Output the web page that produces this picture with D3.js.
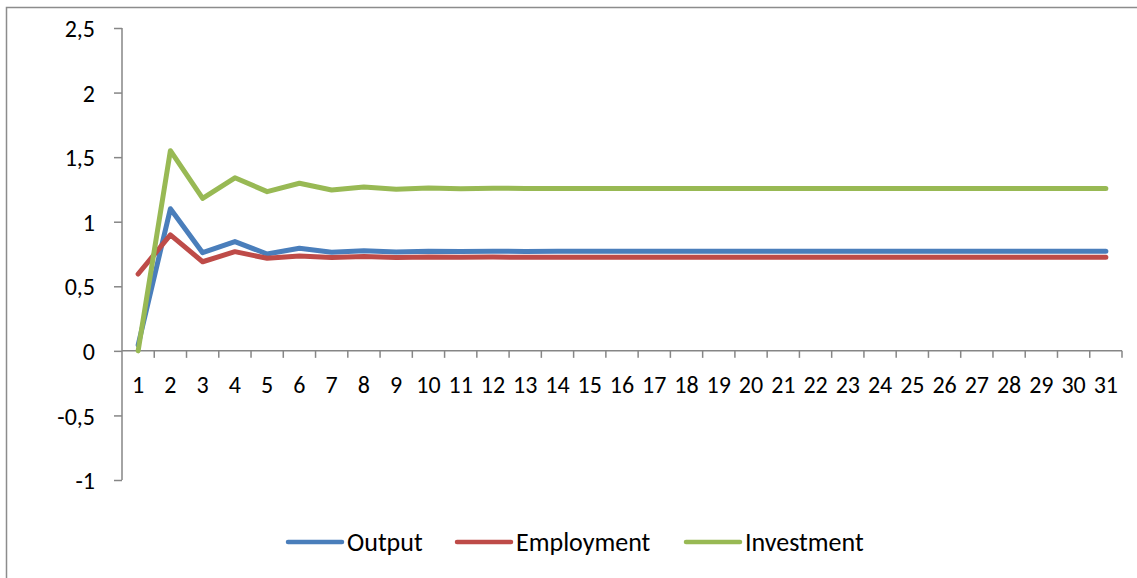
<!DOCTYPE html>
<html><head><meta charset="utf-8">
<script src="https://cdn.jsdelivr.net/npm/d3@7"></script>
<style>
html,body{margin:0;padding:0;background:#fff;}
svg{display:block;}
text{font-family:Carlito,Calibri,Lato,"Open Sans",sans-serif;fill:#000;}
</style></head>
<body>
<svg id="chart" width="1137" height="578"></svg>
<script>
const periods = d3.range(1, 32);
const output = [0.045, 1.10, 0.76, 0.846, 0.75, 0.795, 0.764, 0.776, 0.766, 0.772, 0.769, 0.771, 0.770, 0.771, 0.771, 0.771, 0.771, 0.771, 0.771, 0.771, 0.771, 0.771, 0.771, 0.771, 0.771, 0.771, 0.771, 0.771, 0.771, 0.771, 0.771];
const employment = [0.595, 0.898, 0.69, 0.768, 0.717, 0.735, 0.722, 0.73, 0.722, 0.727, 0.724, 0.726, 0.725, 0.725, 0.725, 0.725, 0.725, 0.725, 0.725, 0.725, 0.725, 0.725, 0.725, 0.725, 0.725, 0.725, 0.725, 0.725, 0.725, 0.725, 0.725];
const investment = [0.0, 1.55, 1.18, 1.34, 1.233, 1.298, 1.246, 1.268, 1.252, 1.262, 1.256, 1.260, 1.257, 1.258, 1.258, 1.258, 1.258, 1.258, 1.258, 1.258, 1.258, 1.258, 1.258, 1.258, 1.258, 1.258, 1.258, 1.258, 1.258, 1.258, 1.258];
const yTicks = [-1, -0.5, 0, 0.5, 1, 1.5, 2, 2.5];
const seriesNames = ["Output", "Employment", "Investment"];
const seriesColors = ["#4A7EBB", "#BE4B48", "#98B954"];

(function () {
const svg = d3.select("#chart");
const axisColor = "#868686";
const fontFam = "Carlito,Calibri,Lato,'Open Sans',sans-serif";

// outer chart border
svg.append("rect").attr("x", 6.5).attr("y", 7.5).attr("width", 1140).attr("height", 580)
  .attr("fill", "none").attr("stroke", "#8c8c8c").attr("stroke-width", 1.5);

const pLeft = 122, pRight = 1122, pTop = 28, pBottom = 480;
const y = d3.scaleLinear().domain([-1, 2.5]).range([pBottom, pTop]);
const xb = d3.scaleBand().domain(periods).range([pLeft, pRight]).padding(0);
const x = d3.scalePoint().domain(periods).range([pLeft, pRight]).padding(0.5);

const fmt = v => String(v).replace(".", ",");

// Y axis
const yAxis = svg.append("g").attr("transform", `translate(${pLeft},0)`)
  .call(d3.axisLeft(y).tickValues(yTicks).tickFormat(fmt).tickSize(8).tickPadding(19));
yAxis.select(".domain").attr("stroke", axisColor).attr("stroke-width", 1.5).attr("d", `M0,${pTop}V${pBottom}`);
yAxis.selectAll(".tick line").attr("stroke", axisColor).attr("stroke-width", 1.5);
yAxis.selectAll(".tick text").attr("font-size", 24).attr("fill", "#000")
  .attr("font-family", fontFam).attr("dy", "0.36em");

// X axis at y=0 with ticks between categories
const y0 = y(0);
const xg = svg.append("g");
xg.append("line").attr("x1", pLeft).attr("x2", pRight).attr("y1", y0).attr("y2", y0)
  .attr("stroke", axisColor).attr("stroke-width", 1.5);
const edges = periods.map(p => xb(p)).concat([xb(periods[periods.length - 1]) + xb.bandwidth()]);
xg.selectAll("line.tk").data(edges.slice(1)).join("line").attr("class", "tk")
  .attr("x1", d => d).attr("x2", d => d).attr("y1", y0).attr("y2", y0 + 7)
  .attr("stroke", axisColor).attr("stroke-width", 1.5);
xg.selectAll("text").data(periods).join("text")
  .attr("x", d => x(d)).attr("y", 393).attr("text-anchor", "middle")
  .attr("font-size", 24).text(d => d);

// Lines
const lineGen = d3.line().x((d, i) => x(periods[i])).y(d => y(d));
[output, employment, investment].forEach((data, i) => {
  svg.append("path").datum(data).attr("d", lineGen)
    .attr("fill", "none").attr("stroke", seriesColors[i]).attr("stroke-width", 5)
    .attr("stroke-linejoin", "round").attr("stroke-linecap", "round");
});

// Legend
const legendX = [288, 457, 686];
const lg = svg.append("g");
seriesNames.forEach((name, i) => {
  lg.append("line").attr("x1", legendX[i]).attr("x2", legendX[i] + 54).attr("y1", 542).attr("y2", 542)
    .attr("stroke", seriesColors[i]).attr("stroke-width", 4.5).attr("stroke-linecap", "round");
  lg.append("text").attr("x", legendX[i] + 59).attr("y", 551).attr("font-size", 26).text(name);
});
})();
</script>
</body></html>
